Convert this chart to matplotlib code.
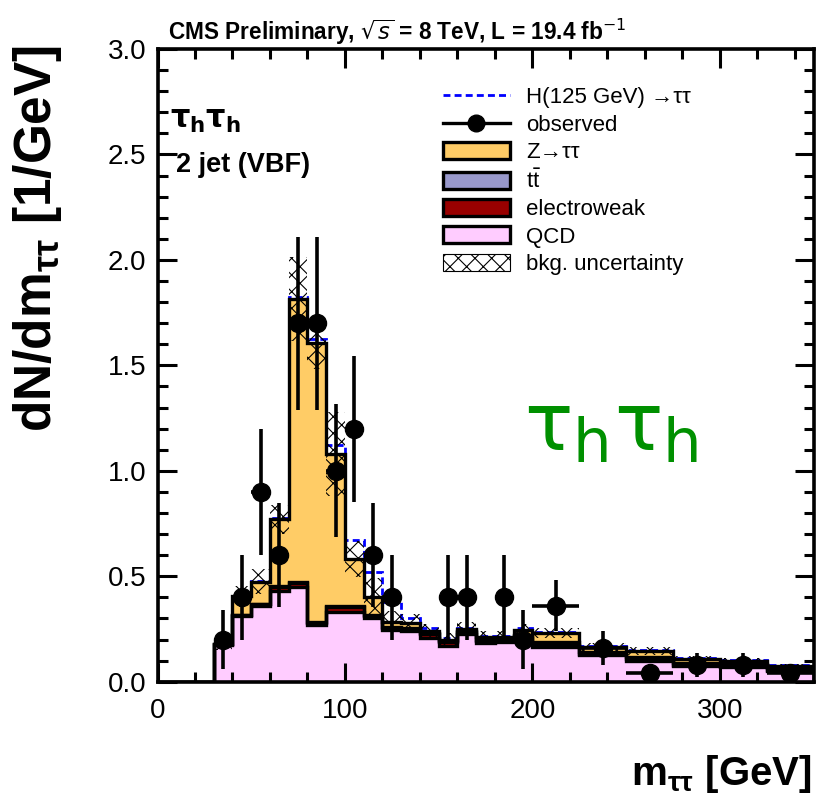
import numpy as np
import matplotlib
matplotlib.use('Agg')
import matplotlib.pyplot as plt
from matplotlib.patches import Patch
from matplotlib.lines import Line2D

# ---------------- data ----------------
edges = [0, 10, 20, 30, 40, 50, 60, 70, 80, 90, 100, 110, 120, 130, 140, 150,
         160, 170, 180, 190, 200, 225, 250, 275, 300, 325, 350]
qcd = [0, 0, 0, 0.175, 0.31, 0.36, 0.43, 0.45, 0.27, 0.33, 0.33, 0.30, 0.245,
       0.24, 0.205, 0.17, 0.225, 0.185, 0.19, 0.205, 0.165, 0.125, 0.10, 0.075,
       0.07, 0.05]
ewk = [0, 0, 0, 0.003, 0.005, 0.008, 0.02, 0.02, 0.01, 0.025, 0.025, 0.01, 0.01,
       0.01, 0.022, 0.02, 0.01, 0.01, 0.01, 0.01, 0.008, 0.008, 0.008, 0.005,
       0.005, 0.005]
ttbar = [0, 0, 0, 0.001, 0.002, 0.002, 0.003, 0.003, 0.003, 0.004, 0.005, 0.005,
         0.005, 0.005, 0.005, 0.005, 0.005, 0.005, 0.005, 0.006, 0.015, 0.01,
         0.01, 0.008, 0.008, 0.008]
ztt = [0, 0, 0, 0.0, 0.088, 0.105, 0.317, 1.342, 1.322, 0.721, 0.22, 0.085, 0.025,
       0.025, 0.008, 0.005, 0.01, 0.01, 0.005, 0.024, 0.042, 0.022, 0.027, 0.022,
       0.017, 0.012]
higgs = [0, 0, 0, 0.0, 0.0, 0.002, 0.005, 0.01, 0.02, 0.04, 0.09, 0.12, 0.095,
         0.02, 0.015, 0.008, 0.005, 0.005, 0.005, 0.01, 0.005, 0.003, 0.003,
         0.003, 0.003, 0.003]
bkg_unc = [0, 0, 0, 0.03, 0.05, 0.06, 0.07, 0.2, 0.12, 0.2, 0.085, 0.09, 0.05,
           0.04, 0.035, 0.03, 0.035, 0.03, 0.03, 0.03, 0.025, 0.02, 0.018, 0.012,
           0.012, 0.01]

obs_center = [35, 45, 55, 65, 75, 85, 95, 105, 115, 125, 155, 165, 185, 195,
              212.5, 237.5, 262.5, 287.5, 312.5, 337.5]
obs_val = [0.2, 0.4, 0.9, 0.6, 1.7, 1.7, 1.0, 1.2, 0.6, 0.4, 0.4, 0.4, 0.4, 0.2,
           0.36, 0.16, 0.04, 0.08, 0.08, 0.04]
obs_yerr = [0.14, 0.2, 0.3, 0.245, 0.41, 0.41, 0.316, 0.346, 0.245, 0.2, 0.2, 0.2,
            0.2, 0.14, 0.12, 0.08, 0.04, 0.057, 0.057, 0.04]
obs_xerr = [5, 5, 5, 5, 5, 5, 5, 5, 5, 5, 5, 5, 5, 5, 12.5, 12.5, 12.5, 12.5,
            12.5, 12.5]

x_ticks = [0, 100, 200, 300]
y_ticks = [0.0, 0.5, 1.0, 1.5, 2.0, 2.5, 3.0]

legend_labels = ["H(125 GeV) \u2192\u03c4\u03c4", "observed",
                 "Z\u2192\u03c4\u03c4", r"t$\bar{\mathregular{t}}$",
                 "electroweak", "QCD", "bkg. uncertainty"]

# ---------------- style ----------------
plt.rcParams['font.family'] = ['Liberation Sans', 'DejaVu Sans']
plt.rcParams['mathtext.fontset'] = 'dejavusans'
plt.rcParams['hatch.linewidth'] = 0.8

c_ztt = '#FFCC66'
c_tt = '#9999CC'
c_ewk = '#990000'
c_qcd = '#FFCCFF'

fig = plt.figure(figsize=(8.17, 7.96), dpi=100)
W, H = 817, 796
ax = fig.add_axes([157.5 / W, (H - 681.7) / H, (813.7 - 157.5) / W, (681.7 - 49) / H])

edges_a = np.array(edges, dtype=float)
s1 = np.array(qcd)
s2 = s1 + np.array(ewk)
s3 = s2 + np.array(ttbar)
s4 = s3 + np.array(ztt)
sig = s4 + np.array(higgs)
unc = np.array(bkg_unc)

lw = 2.4
# fills
ax.stairs(s4, edges_a, baseline=s3, fill=True, color=c_ztt, zorder=1)
ax.stairs(s3, edges_a, baseline=s2, fill=True, color=c_tt, zorder=1)
ax.stairs(s2, edges_a, baseline=s1, fill=True, color=c_ewk, zorder=1)
ax.stairs(s1, edges_a, baseline=0, fill=True, color=c_qcd, zorder=1)
# signal dashed
ax.stairs(sig, edges_a, baseline=None, color='#0000FF', lw=2.0,
          linestyle=(0, (2.5, 1.5)), zorder=2)
# outlines
for s in (s4, s3, s2, s1):
    ax.stairs(s, edges_a, baseline=0, color='black', lw=lw, zorder=3)
# uncertainty band
ax.stairs(s4 + unc, edges_a, baseline=s4 - unc, fill=True, facecolor='none',
          edgecolor='black', hatch='xx', lw=0, zorder=4)
# observed
ax.errorbar(obs_center, obs_val, yerr=obs_yerr, xerr=obs_xerr, fmt='o',
            color='black', ms=13, elinewidth=2.6, capsize=0, zorder=5)

ax.set_xlim(0, 350)
ax.set_ylim(0, 3.0)
ax.set_xticks(x_ticks)
ax.set_xticklabels([str(v) for v in x_ticks])
ax.set_yticks(y_ticks)
ax.set_yticklabels(["%.1f" % v for v in y_ticks])
ax.set_xticks(np.arange(0, 351, 20), minor=True)
ax.set_yticks(np.arange(0, 3.01, 0.1), minor=True)
ax.tick_params(which='both', direction='in', top=True, right=True, width=2.2,
               labelsize=20)
ax.tick_params(which='major', length=14)
ax.tick_params(which='minor', length=7)
ax.tick_params(axis='y', pad=8)
ax.tick_params(axis='x', pad=12)
for sp in ax.spines.values():
    sp.set_linewidth(2.6)

# labels
fig.text(812 / W, 1 - 785 / H, r"m$_{\mathregular{\tau\tau}}$ [GeV]", ha='right',
         va='baseline', fontsize=29, fontweight='bold')
fig.text(38 / W, 1 - 45 / H, r"dN/dm$_{\mathregular{\tau\tau}}$ [1/GeV]", ha='center',
         va='top', rotation=90, fontsize=37, fontweight='bold')
fig.text(168 / W, 1 - 40 / H, r"CMS Preliminary, $\sqrt{s}$ = 8 TeV, L = 19.4 fb$^{-1}$",
         ha='left', va='baseline', fontsize=16.3, fontweight='bold')
fig.text(170 / W, 1 - 128 / H, r"$\mathbf{\tau_h\tau_h}$", ha='left', va='baseline',
         fontsize=22, fontweight='bold')
fig.text(176 / W, 1 - 172 / H, "2 jet (VBF)", ha='left', va='baseline',
         fontsize=19.5, fontweight='bold')

# big green label: tau (large) + h (smaller, lowered)
green = '#009000'
for xpix, ch, fs, base in [(524, "\u03c4", 58, 450), (573, "h", 44, 462),
                           (614, "\u03c4", 58, 450), (663, "h", 44, 462)]:
    fig.text(xpix / W, 1 - base / H, ch, ha='left', va='baseline', fontsize=fs,
             color=green, family=['DejaVu Sans'])

# legend
handles = [
    Line2D([], [], color='#0000FF', lw=2.0, linestyle=(0, (2.5, 1.5))),
    Line2D([], [], color='black', lw=2.4, marker='o', ms=12),
    Patch(facecolor=c_ztt, edgecolor='black', lw=2.4),
    Patch(facecolor=c_tt, edgecolor='black', lw=2.4),
    Patch(facecolor=c_ewk, edgecolor='black', lw=2.4),
    Patch(facecolor=c_qcd, edgecolor='black', lw=2.4),
    Patch(facecolor='none', edgecolor='black', hatch='xx', lw=0.8),
]
fig.legend(handles, legend_labels, loc='upper left',
           bbox_to_anchor=(443 / W, 1 - 87 / H), frameon=False,
           prop={'family': ['Liberation Sans', 'DejaVu Sans'], 'size': 16},
           handlelength=3.0, handleheight=0.8, labelspacing=0.28,
           handletextpad=0.75, borderpad=0, borderaxespad=0)

fig.savefig('out.png', dpi=100)
